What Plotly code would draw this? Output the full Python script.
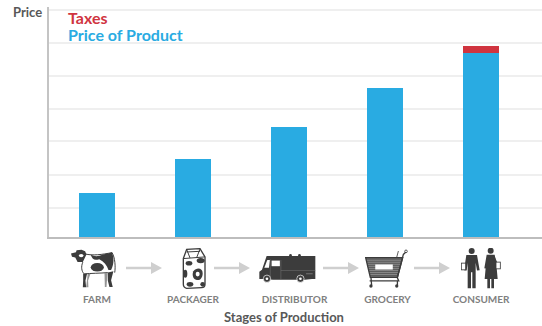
import base64
import plotly.graph_objects as go

# Chart values, in price units
stages = ["FARM", "PACKAGER", "DISTRIBUTOR", "GROCERY", "CONSUMER"]
stage_index = [0, 1, 2, 3, 4]
stage_label_at = [0, 1, 2.057, 3.026, 4]
product_price = [44, 78, 110, 149, 184]
taxes = [0, 0, 0, 0, 7]
grid_levels = [29, 62, 96, 128, 161, 194, 227]

BLUE = "#29abe2"
RED = "#d0343f"
DARK = "#3c3c3c"
W, H = 542, 326
L, R, T, B = 49, 0, 7, 89


def svg_uri(view_box, body):
    svg = (
        f'<svg xmlns="http://www.w3.org/2000/svg" viewBox="{view_box}">'
        f"{body}</svg>"
    )
    return "data:image/svg+xml;base64," + base64.b64encode(svg.encode()).decode()


def placed(uri, x0, y0, x1, y1):
    """Layout image covering the given page-pixel box."""
    pw, ph = W - L - R, H - T - B
    return dict(
        source=uri,
        xref="paper",
        yref="paper",
        x=(x0 - L) / pw,
        y=1 - (y0 - T) / ph,
        sizex=(x1 - x0) / pw,
        sizey=(y1 - y0) / ph,
        xanchor="left",
        yanchor="top",
        sizing="stretch",
        layer="above",
    )


cow = svg_uri("0 0 140 122", f'''
<g fill="{DARK}" stroke="none">
<path d="M0 14 L15 10 L17 4 L32 2 L43 7 L47 17 L36 40 L20 40 L13 26 L3 24Z"/>
<path d="M60 17 C72 23 80 24 97 17 L125 11 C132 30 130 48 122 64 L114 64 C110 50 100 38 86 31 C72 36 64 32 60 17Z"/>
<ellipse cx="80" cy="56" rx="20" ry="13"/>
<path d="M37 76 L49 75 L44 96 L46 117 L36 117 L37 96Z"/>
<path d="M51 76 L59 76 L52 96 L53 117 L46 117Z" opacity="0.55"/>
<path d="M112 72 L129 68 L122 95 L127 116 L117 116 L112 96Z"/>
<path d="M102 74 L111 74 L108 116 L103 116Z" opacity="0.55"/>
</g>
<ellipse cx="31" cy="20" rx="7" ry="5" fill="#fff"/>
<g fill="none" stroke="{DARK}" stroke-width="3">
<path d="M36 40 C30 54 32 68 40 76 C60 74 90 74 112 72"/>
<path d="M43 15 C65 21 95 17 125 11 C134 26 136 55 133 72"/>
</g>''')

carton = svg_uri("0 0 72 124", f'''
<path d="M4 32 L14 4 L54 2 L69 27 V110 Q69 120 59 120 L14 122 Q4 120 4 110Z"
 fill="#fff" stroke="{DARK}" stroke-width="4"/>
<path d="M4 32 L68 27 M14 4 L24 30 M54 3 L44 29 M14 12 L54 10" fill="none" stroke="{DARK}" stroke-width="3"/>
<g fill="{DARK}">
<ellipse cx="21" cy="46" rx="10" ry="7"/>
<ellipse cx="56" cy="38" rx="12" ry="8"/>
<path d="M34 70 C44 58 62 60 62 76 C62 92 52 100 42 96 C32 92 30 80 34 70Z" fill-rule="evenodd"/>
<ellipse cx="10" cy="78" rx="6" ry="12"/>
<ellipse cx="24" cy="110" rx="10" ry="7"/>
<ellipse cx="62" cy="110" rx="7" ry="7"/>
</g>
<ellipse cx="47" cy="79" rx="6" ry="7" fill="#fff"/>''')

truck = svg_uri("0 0 172 88", f'''
<g fill="{DARK}">
<circle cx="95" cy="4" r="4"/><circle cx="122" cy="4" r="4"/>
<path d="M23 6 H170 V76 H160 L138 78 H42 L20 76 H1 V54 L9 48 Z"/>
</g>
<path d="M38 20 H63 V37 H38Z" fill="#fff"/>
<path d="M25 18 H33 L30 42 H16Z" fill="#fff"/>
<path d="M66 50 H170 M66 18 V78 M34 16 V78" stroke="#777" stroke-width="1.5" fill="none"/>
<path d="M142 60 H162" stroke="#777" stroke-width="3"/>
<g fill="{DARK}" stroke="#fff" stroke-width="2">
<circle cx="24" cy="75" r="11"/><circle cx="125" cy="75" r="11"/>
</g>
<circle cx="24" cy="75" r="4" fill="#fff"/><circle cx="125" cy="75" r="4" fill="#fff"/>''')

cart = svg_uri("0 0 130 116", f'''
<defs><pattern id="dots" width="6" height="6" patternUnits="userSpaceOnUse">
<rect width="6" height="6" fill="{DARK}"/><circle cx="3" cy="3" r="2.1" fill="#e6e6e6"/>
</pattern></defs>
<path d="M2 26 H114 L98 84 H16Z" fill="url(#dots)" stroke="{DARK}" stroke-width="4"/>
<rect x="31" y="46" width="53" height="15" fill="#fff"/>
<g fill="none" stroke="{DARK}" stroke-width="4">
<path d="M98 84 L116 16 L123 10"/>
<path d="M14 95 H102 L97 84"/>
<path d="M18 84 L20 108 M98 95 V108"/>
</g>
<path d="M96 24 L101 6" stroke="{DARK}" stroke-width="2.5"/>
<circle cx="124" cy="7" r="4" fill="none" stroke="{DARK}" stroke-width="2.5"/>
<circle cx="18" cy="110" r="5" fill="{DARK}"/><circle cx="96" cy="110" r="5" fill="{DARK}"/>''')

people = svg_uri("0 0 120 122", f'''
<g fill="{DARK}">
<circle cx="32" cy="9" r="9"/>
<path d="M16 21 H48 L56 66 L48 67 L44 44 V120 H34 V72 H30 V120 H20 V44 L17 67 L9 66Z"/>
<circle cx="89" cy="8" r="9"/>
<path d="M77 20 H101 L106 48 L110 92 H71 L75 48 L79 34 L76 62 L70 60Z"/>
<path d="M79 92 H87 V120 H79Z M91 92 H99 V120 H91Z"/>
<path d="M100 22 L109 44 L105 46 L98 36Z"/>
</g>
<g fill="#fff" stroke="{DARK}" stroke-width="2.5">
<rect x="1" y="45" width="13" height="20"/>
<rect x="105" y="42" width="13" height="20"/>
</g>''')

arrow = svg_uri("0 0 36 14", '<path d="M0 5.7 H25 V1 L36 7 L25 13 V8.3 H0Z" fill="#cfcfcf"/>')

images = [
    placed(cow, 71, 249, 117, 289),
    placed(carton, 182, 248, 206, 289),
    placed(truck, 259, 254, 316, 283),
    placed(cart, 365, 249, 408, 288),
    placed(people, 461, 248, 501, 289),
]
for x0, x1 in [(126, 162), (214, 250), (323, 359), (414, 450)]:
    images.append(placed(arrow, x0, 261, x1, 275))

fig = go.Figure()
fig.add_bar(x=stage_index, y=product_price, marker_color=BLUE, marker_line_width=0,
            width=0.375, name="Price of Product")
fig.add_bar(x=stage_index, y=taxes, marker_color=RED, marker_line_width=0,
            width=0.375, name="Taxes")

FONT = "Lato"
fig.update_layout(
    width=W,
    height=H,
    margin=dict(l=L, r=R, t=T, b=B, pad=0),
    barmode="stack",
    showlegend=False,
    paper_bgcolor="#fff",
    plot_bgcolor="#fff",
    font=dict(family=FONT),
    images=images,
    xaxis=dict(
        range=[-0.5, 4.635],
        tickvals=stage_label_at,
        ticktext=stages,
        showgrid=False,
        zeroline=False,
        showline=True,
        linecolor="#bdbdbd",
        linewidth=2,
        ticks="outside",
        ticklen=52,
        tickcolor="rgba(0,0,0,0)",
        tickfont=dict(size=10, color="#808080", family=FONT, weight=700),
    ),
    yaxis=dict(
        range=[0, 230],
        tickvals=grid_levels,
        showticklabels=False,
        showgrid=True,
        gridcolor="#efefef",
        gridwidth=2,
        zeroline=False,
        showline=True,
        linecolor="#c4c4c4",
        linewidth=2,
        ticks="",
    ),
    annotations=[
        dict(text="<b>Price</b>", xref="paper", yref="paper", x=(43.5 - L) / 493,
             y=1 - (12.5 - T) / 230, xanchor="right", yanchor="middle", showarrow=False,
             font=dict(size=13, color="#585858")),
        dict(text="<b>Taxes</b>", xref="paper", yref="paper", x=(67 - L) / 493,
             y=1 - (17.5 - T) / 230, xanchor="left", yanchor="middle", showarrow=False,
             xshift=-1.5, font=dict(size=16, color=RED)),
        dict(text="<b>Price of Product</b>", xref="paper", yref="paper", x=(67 - L) / 493,
             y=1 - (34 - T) / 230, xanchor="left", yanchor="middle", showarrow=False,
             xshift=-1.5, font=dict(size=16, color=BLUE)),
        dict(text="<b>Stages of Production</b>", xref="paper", yref="paper",
             x=(283.5 - L) / 493, y=1 - (317 - T) / 230, xanchor="center", yanchor="middle",
             showarrow=False, font=dict(size=13, color="#585858")),
    ],
)

fig.write_html("out.html")
